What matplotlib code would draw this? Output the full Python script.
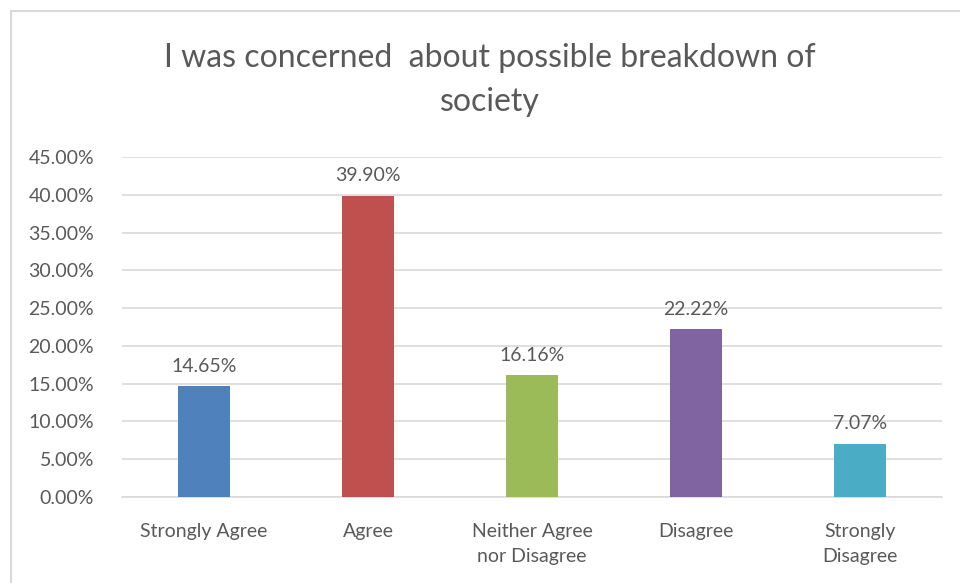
import matplotlib.pyplot as plt
from matplotlib.patches import Rectangle
from matplotlib.ticker import FuncFormatter

categories = ['Strongly Agree', 'Agree', 'Neither Agree\nnor Disagree', 'Disagree', 'Strongly\nDisagree']
values = [14.65, 39.90, 16.16, 22.22, 7.07]
colors = ['#4F81BD', '#C0504D', '#9BBB59', '#8064A2', '#4BACC6']
title = 'I was concerned  about possible breakdown of\nsociety'

plt.rcParams['font.family'] = ['Lato', 'DejaVu Sans']
txt = '#595959'

fig = plt.figure(figsize=(9.6, 5.83), dpi=100)
W, H = 960, 583
# chart frame (cut off on right and bottom)
fig.patches.append(Rectangle((11 / W, -0.1), 1.2, 1 - 11 / H + 0.1, transform=fig.transFigure,
                             fill=False, edgecolor='#D9D9D9', linewidth=1.5))

ax = fig.add_axes([122 / W, 1 - 497 / H, 820 / W, 340 / H])
x = range(len(categories))
ax.bar(x, values, width=0.32, color=colors, zorder=3)
for xi, v in zip(x, values):
    ax.text(xi, v + 1.5, f'{v:.2f}%', ha='center', va='bottom', fontsize=14, color=txt)

ax.set_ylim(0, 45)
ax.set_xlim(-0.5, 4.5)
ax.set_yticks([i * 5 for i in range(10)])
ax.yaxis.set_major_formatter(FuncFormatter(lambda v, p: f'{v:.2f}%'))
ax.set_xticks(list(x))
ax.set_xticklabels(categories, fontsize=14, color=txt, linespacing=1.55)
ax.tick_params(axis='y', labelsize=14, labelcolor=txt, length=0, pad=20)
ax.tick_params(axis='x', length=0, pad=19)
ax.grid(axis='y', color='#D9D9D9', linewidth=1.2, zorder=0)
for s in ['top', 'right', 'left']:
    ax.spines[s].set_visible(False)
ax.spines['bottom'].set_color('#D9D9D9')
ax.spines['bottom'].set_linewidth(1.2)

fig.text(490 / W, 1 - 80 / H, title, ha='center', va='center', fontsize=23, color=txt,
         linespacing=1.55)

fig.savefig('out.png', dpi=100)
